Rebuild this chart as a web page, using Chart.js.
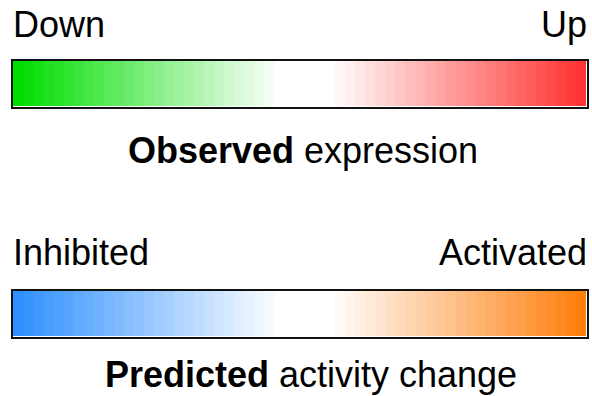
<!DOCTYPE html>
<html lang="en">
<head>
<meta charset="UTF-8">
<title>Expression legend</title>
<script src="https://cdn.jsdelivr.net/npm/chart.js"></script>
<style>
  html, body { margin: 0; padding: 0; background: #fff; }
  body { width: 592px; height: 396px; position: relative; overflow: hidden;
         font-family: Arial, "Liberation Sans", sans-serif; font-size: 36px; color: #000; }
  .lbl { position: absolute; line-height: 36px; white-space: nowrap; }
  .left { left: 13px; }
  .right { right: 5px; }
  .title { text-align: center; }
  .title b { font-weight: bold; }
  .bar { position: absolute; left: 11px; width: 578px; height: 50px;
         box-sizing: border-box; border: 2.5px solid #111; }
  .bar canvas { display: block; }
</style>
</head>
<body>
<div class="lbl left" style="top:7px">Down</div>
<div class="lbl right" style="top:7px">Up</div>
<div class="bar" style="top:59px"><canvas id="obsChart" width="573" height="45"></canvas></div>
<div class="lbl title" style="top:133px; left:14px; width:578px"><b>Observed</b> expression</div>

<div class="lbl left" style="top:235px">Inhibited</div>
<div class="lbl right" style="top:235px">Activated</div>
<div class="bar" style="top:289px"><canvas id="predChart" width="573" height="45"></canvas></div>
<div class="lbl title" style="top:357px; left:30px; width:562px"><b>Predicted</b> activity change</div>

<script>
// gradient steps, left to right: negative = down / inhibited, positive = up / activated
const levels = [
  -1.00, -0.96, -0.92, -0.88, -0.85, -0.81, -0.77, -0.73, -0.69, -0.65,
  -0.62, -0.58, -0.54, -0.50, -0.46, -0.42, -0.38, -0.35, -0.31, -0.27,
  -0.23, -0.19, -0.15, -0.12, -0.08, -0.04,
   0, 0, 0, 0, 0, 0,
   0.04, 0.08, 0.12, 0.16, 0.20, 0.24, 0.28, 0.32, 0.36, 0.40,
   0.44, 0.48, 0.52, 0.56, 0.60, 0.64, 0.68, 0.72, 0.76, 0.80,
   0.84, 0.88, 0.92, 0.96, 1.00
];
const stepWidth = levels.map(() => 1);

// end colours of each scale
const obsLow = [0, 221, 0];      // down  - green
const obsHigh = [255, 51, 51];   // up    - red
const predLow = [48, 144, 255];  // inhibited - blue
const predHigh = [255, 127, 14]; // activated - orange

function mix(rgb, t) {
  const c = rgb.map(v => Math.round(255 + (v - 255) * t));
  return 'rgb(' + c.join(',') + ')';
}

function colorFor(v, low, high) {
  return v < 0 ? mix(low, -v) : mix(high, v);
}

function buildBar(canvasId, label, low, high) {
  const ctx = document.getElementById(canvasId).getContext('2d');
  const datasets = levels.map((v, i) => ({
    data: [stepWidth[i]],
    backgroundColor: colorFor(v, low, high),
    borderWidth: 0,
    barPercentage: 1,
    categoryPercentage: 1,
    stack: 'scale'
  }));
  return new Chart(ctx, {
    type: 'bar',
    data: { labels: [label], datasets: datasets },
    options: {
      indexAxis: 'y',
      responsive: false,
      animation: false,
      devicePixelRatio: 1,
      layout: { padding: 0 },
      plugins: { legend: { display: false }, tooltip: { enabled: false } },
      scales: {
        x: { stacked: true, display: false, min: 0, max: levels.length },
        y: { stacked: true, display: false }
      }
    }
  });
}

buildBar('obsChart', 'Observed expression', obsLow, obsHigh);
buildBar('predChart', 'Predicted activity change', predLow, predHigh);
</script>
</body>
</html>
